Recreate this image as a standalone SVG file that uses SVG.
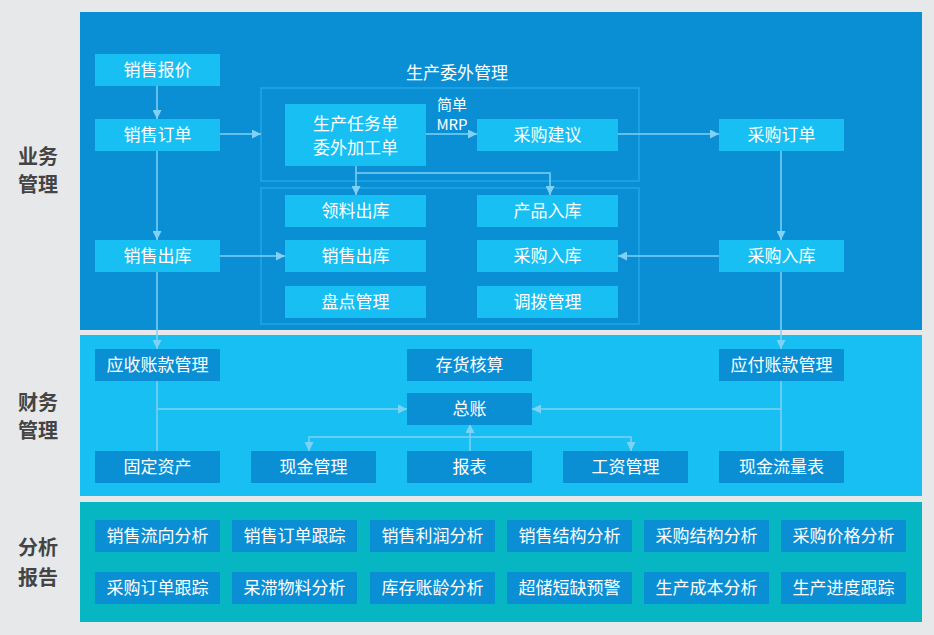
<svg xmlns="http://www.w3.org/2000/svg" width="934" height="635" viewBox="0 0 934 635">
<defs>
<marker id="arr" viewBox="0 0 10 10" refX="10" refY="5" markerWidth="9" markerHeight="9" markerUnits="userSpaceOnUse" orient="auto">
<path d="M0,0 L10,5 L0,10 z" fill="#7fd2f6"/>
</marker>
<style>
text{font-family:"Noto Sans CJK SC","Liberation Sans",sans-serif;}
.t{fill:#ffffff;font-size:17px;text-anchor:middle;}
.s{fill:#ffffff;font-size:15px;text-anchor:middle;}
.lab{fill:#444444;font-size:20px;font-weight:bold;text-anchor:middle;}
.lt{fill:#18bff2;}
.dk{fill:#0a8fd5;}
.frame{fill:none;stroke:#22a6e8;stroke-width:1.5;}
.c{fill:none;stroke:#7fd2f6;stroke-width:1.5;}
.ca{fill:none;stroke:#7fd2f6;stroke-width:1.5;marker-end:url(#arr);}
</style>
</defs>
<rect width="934" height="635" fill="#e6e8ea"/>
<g id="panels">
<rect x="80" y="12" width="842" height="318" fill="#0a8fd5"/>
<rect x="80" y="335" width="842" height="161" fill="#18bff2"/>
<rect x="80" y="502" width="842" height="120" fill="#07b6c3"/>
</g>
<g id="section-labels">
<text class="lab" x="38" y="164">业务</text>
<text class="lab" x="38" y="192">管理</text>
<text class="lab" x="38" y="410">财务</text>
<text class="lab" x="38" y="438">管理</text>
<text class="lab" x="38" y="555">分析</text>
<text class="lab" x="38" y="585">报告</text>
</g>
<g id="group-production">
<text class="t" x="457" y="79">生产委外管理</text>
<rect class="frame" x="261" y="88" width="378" height="93"/>
<rect class="frame" x="261" y="188" width="378" height="136"/>
</g>
<g id="connectors">
<path class="ca" d="M157,85 V119"/>
<path class="ca" d="M220,134 H261"/>
<path class="ca" d="M157,150 V240"/>
<path class="ca" d="M220,256 H285"/>
<path class="ca" d="M157,271 V349"/>
<path class="ca" d="M425,134 H477"/>
<path class="ca" d="M356,165 V195"/>
<path class="ca" d="M356,173 H550 V195"/>
<path class="ca" d="M618,134 H719"/>
<path class="ca" d="M781,150 V240"/>
<path class="ca" d="M719,256 H618"/>
<path class="ca" d="M781,271 V349"/>
<path class="c" d="M157,380 V451"/>
<path class="ca" d="M157,409 H407"/>
<path class="c" d="M781,380 V451"/>
<path class="ca" d="M781,409 H532"/>
<path class="ca" d="M470,451 V424"/>
<path class="ca" d="M470,437 H309 V451"/>
<path class="ca" d="M470,437 H631 V451"/>
</g>
<g id="mrp-label">
<text class="s" x="452" y="109.5">简单</text>
<text class="s" x="452" y="129.5">MRP</text>
</g>
<g id="n-xsbj"><rect class="lt" x="95" y="54" width="125" height="32"/><text class="t" x="157.5" y="75.5">销售报价</text></g>
<g id="n-xsdd"><rect class="lt" x="95" y="119" width="125" height="32"/><text class="t" x="157.5" y="140.5">销售订单</text></g>
<g id="n-xsck"><rect class="lt" x="95" y="240" width="125" height="32"/><text class="t" x="157.5" y="261.5">销售出库</text></g>
<g id="n-scrw"><rect class="lt" x="285" y="104" width="141" height="62"/><text class="t" x="355.5" y="130">生产任务单</text><text class="t" x="355.5" y="154">委外加工单</text></g>
<g id="n-cgjy"><rect class="lt" x="477" y="119" width="141" height="32"/><text class="t" x="547.5" y="140.5">采购建议</text></g>
<g id="n-llck"><rect class="lt" x="285" y="195" width="141" height="32"/><text class="t" x="355.5" y="216.5">领料出库</text></g>
<g id="n-cprk"><rect class="lt" x="477" y="195" width="141" height="32"/><text class="t" x="547.5" y="216.5">产品入库</text></g>
<g id="n-xsck2"><rect class="lt" x="285" y="240" width="141" height="32"/><text class="t" x="355.5" y="261.5">销售出库</text></g>
<g id="n-cgrk2"><rect class="lt" x="477" y="240" width="141" height="32"/><text class="t" x="547.5" y="261.5">采购入库</text></g>
<g id="n-pdgl"><rect class="lt" x="285" y="286" width="141" height="32"/><text class="t" x="355.5" y="307.5">盘点管理</text></g>
<g id="n-dbgl"><rect class="lt" x="477" y="286" width="141" height="32"/><text class="t" x="547.5" y="307.5">调拨管理</text></g>
<g id="n-cgdd"><rect class="lt" x="719" y="119" width="125" height="32"/><text class="t" x="781.5" y="140.5">采购订单</text></g>
<g id="n-cgrk"><rect class="lt" x="719" y="240" width="125" height="32"/><text class="t" x="781.5" y="261.5">采购入库</text></g>
<g id="n-yszk"><rect class="dk" x="95" y="349" width="125" height="32"/><text class="t" x="157.5" y="370.5">应收账款管理</text></g>
<g id="n-chhs"><rect class="dk" x="407" y="349" width="125" height="32"/><text class="t" x="469.5" y="370.5">存货核算</text></g>
<g id="n-yfzk"><rect class="dk" x="719" y="349" width="125" height="32"/><text class="t" x="781.5" y="370.5">应付账款管理</text></g>
<g id="n-zz"><rect class="dk" x="407" y="393" width="125" height="32"/><text class="t" x="469.5" y="414.5">总账</text></g>
<g id="n-gdzc"><rect class="dk" x="95" y="451" width="125" height="32"/><text class="t" x="157.5" y="472.5">固定资产</text></g>
<g id="n-xjgl"><rect class="dk" x="251" y="451" width="125" height="32"/><text class="t" x="313.5" y="472.5">现金管理</text></g>
<g id="n-bb"><rect class="dk" x="407" y="451" width="125" height="32"/><text class="t" x="469.5" y="472.5">报表</text></g>
<g id="n-gzgl"><rect class="dk" x="563" y="451" width="125" height="32"/><text class="t" x="625.5" y="472.5">工资管理</text></g>
<g id="n-xjllb"><rect class="dk" x="719" y="451" width="125" height="32"/><text class="t" x="781.5" y="472.5">现金流量表</text></g>
<g id="n-a1"><rect class="dk" x="95" y="520" width="125" height="32"/><text class="t" x="157.5" y="542">销售流向分析</text></g>
<g id="n-a2"><rect class="dk" x="232" y="520" width="125" height="32"/><text class="t" x="294.5" y="542">销售订单跟踪</text></g>
<g id="n-a3"><rect class="dk" x="370" y="520" width="125" height="32"/><text class="t" x="432.5" y="542">销售利润分析</text></g>
<g id="n-a4"><rect class="dk" x="507" y="520" width="125" height="32"/><text class="t" x="569.5" y="542">销售结构分析</text></g>
<g id="n-a5"><rect class="dk" x="644" y="520" width="125" height="32"/><text class="t" x="706.5" y="542">采购结构分析</text></g>
<g id="n-a6"><rect class="dk" x="781" y="520" width="125" height="32"/><text class="t" x="843.5" y="542">采购价格分析</text></g>
<g id="n-b1"><rect class="dk" x="95" y="572" width="125" height="32"/><text class="t" x="157.5" y="594">采购订单跟踪</text></g>
<g id="n-b2"><rect class="dk" x="232" y="572" width="125" height="32"/><text class="t" x="294.5" y="594">呆滞物料分析</text></g>
<g id="n-b3"><rect class="dk" x="370" y="572" width="125" height="32"/><text class="t" x="432.5" y="594">库存账龄分析</text></g>
<g id="n-b4"><rect class="dk" x="507" y="572" width="125" height="32"/><text class="t" x="569.5" y="594">超储短缺预警</text></g>
<g id="n-b5"><rect class="dk" x="644" y="572" width="125" height="32"/><text class="t" x="706.5" y="594">生产成本分析</text></g>
<g id="n-b6"><rect class="dk" x="781" y="572" width="125" height="32"/><text class="t" x="843.5" y="594">生产进度跟踪</text></g>
</svg>
